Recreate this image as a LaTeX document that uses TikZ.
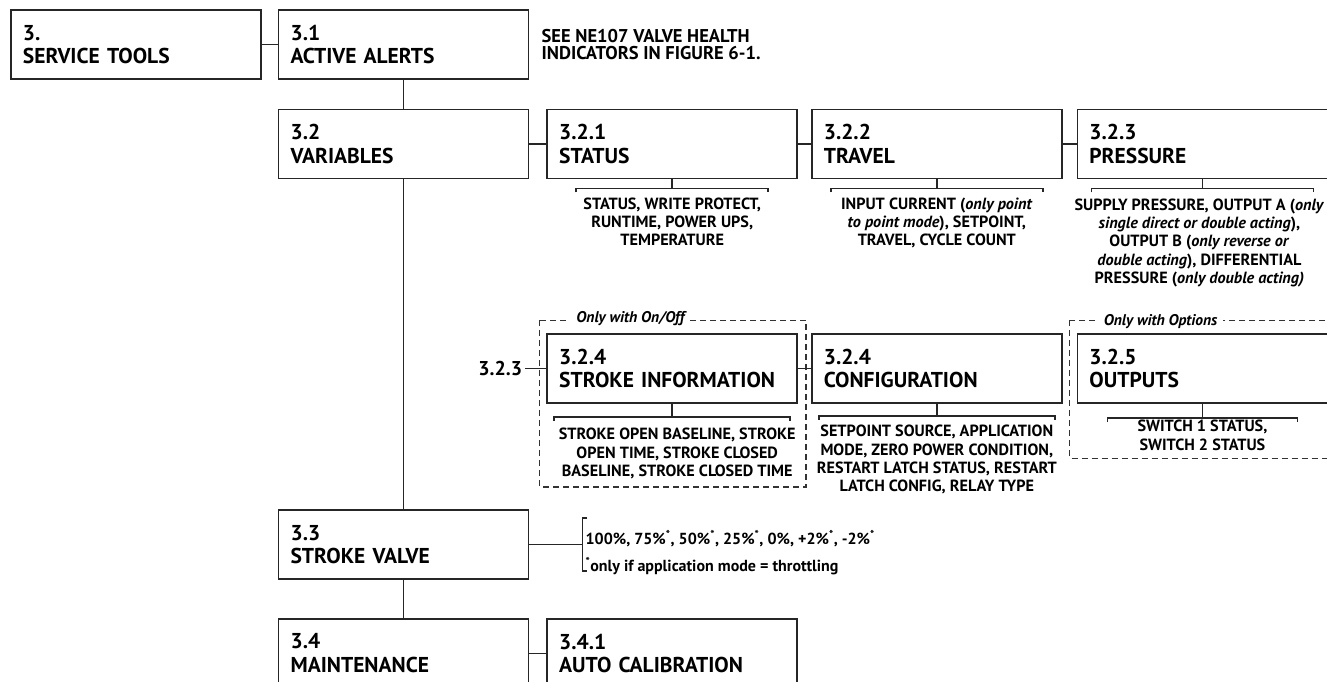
\documentclass[tikz,border=0pt]{standalone}
\usepackage{fontspec}
\setmainfont{PT Sans}
\usepackage{xcolor}
\usepackage{tikz}
\usetikzlibrary{positioning}
\usetikzlibrary{calc}

% stem from a box down to a bracket over its list of entries
\newcommand{\subbracket}[3]{%
	\draw[link] (#1.south) -- ++(0,-#3) coordinate (#1-br);
	\draw[link] ([xshift=-#2,yshift=-4pt]#1-br) -- ([xshift=-#2]#1-br) -- ([xshift=#2]#1-br) -- ([xshift=#2,yshift=-4pt]#1-br);
}

\begin{document}
\begin{tikzpicture}[x=1pt, y=1pt,
		menubox/.style={draw=black!85, line width=1.6pt, text width=226pt, minimum height=69pt, inner xsep=12pt, inner ysep=0pt, align=left, font=\fontsize{21.5pt}{23.5pt}\selectfont\bfseries},
		detail/.style={inner sep=0pt, align=center, font=\fontsize{16.2pt}{18.3pt}\selectfont\bfseries},
		sidenote/.style={inner sep=0pt, align=left, font=\fontsize{18.5pt}{17pt}\selectfont\bfseries},
		link/.style={draw=black!85, line width=1.5pt},
		dashframe/.style={draw=black!80, line width=1.3pt, dash pattern=on 6pt off 4pt},
		framelabel/.style={fill=white, inner xsep=6pt, inner ysep=1pt, font=\fontsize{15.5pt}{17pt}\selectfont\bfseries\itshape},
		reflabel/.style={inner sep=3pt, font=\fontsize{20pt}{22pt}\selectfont\bfseries}]
	\useasboundingbox (0,0) rectangle (1327,-682);
	\clip (0,0) rectangle (1327,-682);

	% top row
	\node[menubox] (tools) at (136,-44.5) {3.\\SERVICE TOOLS};
	\node[menubox, right=16pt of tools] (alerts) {3.1\\ACTIVE ALERTS};
	\node[sidenote, right=12pt of alerts] (alertnote) {SEE NE107 VALVE HEALTH\\INDICATORS IN FIGURE 6-1.};

	% variables and its sub menus
	\node[menubox, below=29pt of alerts] (variables) {3.2\\VARIABLES};
	\node[menubox, right=17pt of variables] (status) {3.2.1\\STATUS};
	\node[menubox, right=13pt of status] (travel) {3.2.2\\TRAVEL};
	\node[menubox, right=14pt of travel] (pressure) {3.2.3\\PRESSURE};
	\node[menubox, below=154pt of status] (strokeinfo) {3.2.4\\STROKE INFORMATION};
	\node[menubox, right=13pt of strokeinfo] (config) {3.2.4\\CONFIGURATION};
	\node[menubox, below=154pt of pressure] (outputs) {3.2.5\\OUTPUTS};
	\node[reflabel, left=21pt of strokeinfo] (backref) {3.2.3};

	% left column further down
	\node[menubox, below=330pt of variables] (strokevalve) {3.3\\STROKE VALVE};
	\node[menubox, below=38pt of strokevalve] (maintenance) {3.4\\MAINTENANCE};
	\node[menubox, right=17pt of maintenance] (autocal) {3.4.1\\AUTO CALIBRATION};

	% entries shown under each menu
	\node[detail, below=18pt of status] (statusdet) {STATUS, WRITE PROTECT,\\RUNTIME, POWER UPS,\\TEMPERATURE};
	\node[detail, below=18pt of travel] (traveldet) {INPUT CURRENT (\textit{only point}\\\textit{to point mode}), SETPOINT,\\TRAVEL, CYCLE COUNT};
	\node[detail, below=19pt of pressure, xshift=-3pt] (pressuredet) {SUPPLY PRESSURE, OUTPUT A (\textit{only}\\\textit{single direct or double acting}),\\OUTPUT B (\textit{only reverse or}\\\textit{double acting}), DIFFERENTIAL\\PRESSURE (\textit{only double acting)}};
	\node[detail, below=24pt of strokeinfo, xshift=5pt] (sidet) {STROKE OPEN BASELINE, STROKE\\OPEN TIME, STROKE CLOSED\\BASELINE, STROKE CLOSED TIME};
	\node[detail, below=21pt of config] (configdet) {SETPOINT SOURCE, APPLICATION\\MODE, ZERO POWER CONDITION,\\RESTART LATCH STATUS, RESTART\\LATCH CONFIG, RELAY TYPE};
	\node[detail, below=16pt of outputs] (outdet) {SWITCH 1 STATUS,\\SWITCH 2 STATUS};

	\subbracket{status}{96pt}{9pt}
	\subbracket{travel}{106pt}{9pt}
	\subbracket{pressure}{111pt}{9pt}
	\subbracket{strokeinfo}{118pt}{13pt}
	\subbracket{config}{118pt}{12pt}
	\subbracket{outputs}{95pt}{14pt}

	% dashed groups for optional menus
	\draw[dashframe] ($(strokeinfo.north west)+(-7pt,13pt)$) rectangle ($(strokeinfo.east |- sidet.south)+(8pt,-8pt)$);
	\draw[dashframe] ($(outputs.north west)+(-7pt,13pt)$) rectangle ($(outputs.east |- outdet.south)+(11pt,-8pt)$);
	\node[framelabel] (onofftag) at ($(strokeinfo.north west)+(84pt,15pt)$) {Only with On/Off};
	\node[framelabel] (optionstag) at ($(outputs.north west)+(84pt,12pt)$) {Only with Options};

	% menu links
	\draw[link] (tools) -- (alerts);
	\draw[link] (alerts) -- (variables);
	\draw[link] (variables) -- (status);
	\draw[link] (status) -- (travel);
	\draw[link] (travel) -- (pressure);
	\draw[link] (strokeinfo) -- (config);
	\draw[link] (backref) -- (strokeinfo);
	\draw[link] (variables) -- (strokevalve);
	\draw[link] (strokevalve) -- (maintenance);
	\draw[link] (maintenance) -- (autocal);

	% stroke steps beside 3.3
	\draw[link] (strokevalve.east) -- ++(53pt,0) coordinate (valvebr);
	\draw[link] ([xshift=5pt,yshift=26.5pt]valvebr) -- ([yshift=26.5pt]valvebr) -- ([yshift=-26.5pt]valvebr) -- ([xshift=5pt,yshift=-26.5pt]valvebr);
	\node[detail, align=left, anchor=north west, font=\fontsize{16pt}{27pt}\selectfont\bfseries] (valvedet) at ([xshift=3pt,yshift=14.5pt]valvebr) {100\%, 75\%\textsuperscript{*}, 50\%\textsuperscript{*}, 25\%\textsuperscript{*}, 0\%, +2\%\textsuperscript{*}, -2\%\textsuperscript{*}\\\textsuperscript{*}only if application mode = throttling};
\end{tikzpicture}
\end{document}
